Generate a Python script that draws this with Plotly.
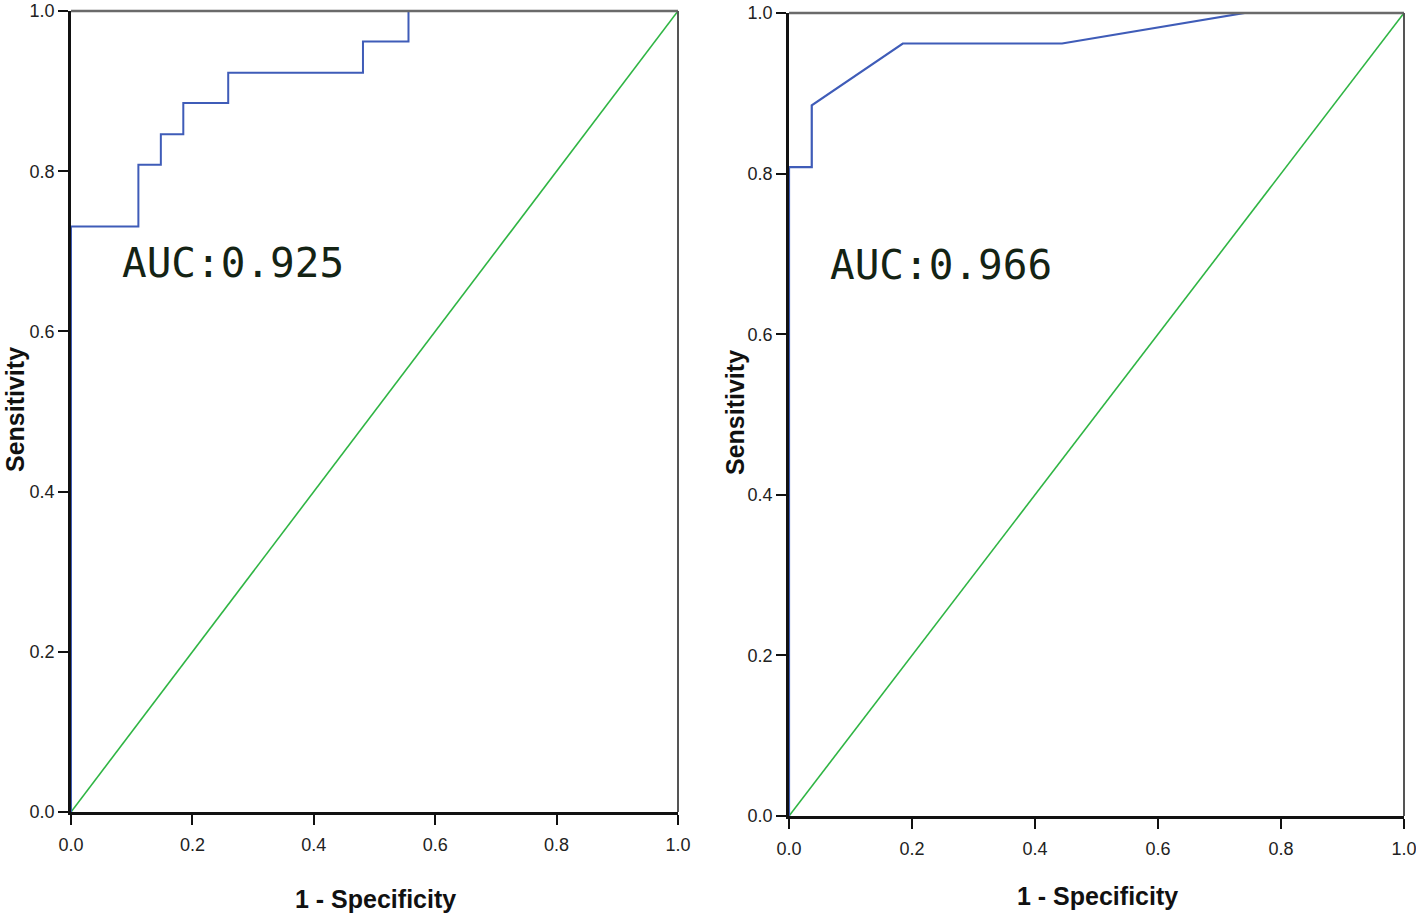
import plotly.graph_objects as go

# ---- data ----
left_fpr = [0.0, 0.0, 0.111, 0.148, 0.185, 0.259, 0.481, 0.556, 1.0]
left_tpr = [0.0, 0.731, 0.808, 0.846, 0.885, 0.923, 0.962, 1.0, 1.0]
left_auc = "AUC:0.925"

right_fpr = [0.0, 0.0, 0.037, 0.037, 0.185, 0.444, 0.741, 1.0]
right_tpr = [0.0, 0.808, 0.808, 0.885, 0.962, 0.962, 1.0, 1.0]
right_auc = "AUC:0.966"

ref_line = [0.0, 1.0]
tick_vals = [0.0, 0.2, 0.4, 0.6, 0.8, 1.0]
tick_text = ["0.0", "0.2", "0.4", "0.6", "0.8", "1.0"]
x_title = "1 - Specificity"
y_title = "Sensitivity"

# ---- layout geometry (pixels) ----
W, H = 1416, 918
L = dict(x0=71, x1=678, yt=11, yb=812)
R = dict(x0=789, x1=1404, yt=13, yb=816)

def xd(p):
    return [p["x0"] / W, p["x1"] / W]

def yd(p):
    return [1 - p["yb"] / H, 1 - p["yt"] / H]

BLUE = "#3f5cb8"
GREEN = "#2fb544"
TICKFONT = dict(family="Liberation Sans Narrow, Arial Narrow, Liberation Sans, Arial", size=18, color="#222")

fig = go.Figure()
fig.add_trace(go.Scatter(x=ref_line, y=ref_line, mode="lines", line=dict(color=GREEN, width=1.6),
                         xaxis="x", yaxis="y", showlegend=False, hoverinfo="skip"))
fig.add_trace(go.Scatter(x=left_fpr, y=left_tpr, mode="lines", line=dict(color=BLUE, width=2, shape="hv"),
                         xaxis="x", yaxis="y", showlegend=False))
fig.add_trace(go.Scatter(x=ref_line, y=ref_line, mode="lines", line=dict(color=GREEN, width=1.6),
                         xaxis="x2", yaxis="y2", showlegend=False, hoverinfo="skip"))
fig.add_trace(go.Scatter(x=right_fpr, y=right_tpr, mode="lines", line=dict(color=BLUE, width=2.2),
                         xaxis="x2", yaxis="y2", showlegend=False))

axis_common = dict(range=[0, 1], tickvals=tick_vals, ticktext=tick_text, ticks="outside",
                   ticklen=10, tickwidth=2, tickcolor="#111", showgrid=False, zeroline=False,
                   showline=True, linecolor="#111", linewidth=2.5, tickfont=TICKFONT,
                   automargin=False, fixedrange=True, ticklabeloverflow="allow")
xaxis_extra = dict(ticklabelstandoff=5)

fig.update_layout(
    width=W, height=H,
    margin=dict(l=0, r=0, t=0, b=0),
    paper_bgcolor="white", plot_bgcolor="white",
    xaxis=dict(domain=xd(L), anchor="y", **axis_common, **xaxis_extra),
    yaxis=dict(domain=yd(L), anchor="x", **axis_common),
    xaxis2=dict(domain=xd(R), anchor="y2", **axis_common, **xaxis_extra),
    yaxis2=dict(domain=yd(R), anchor="x2", **axis_common),
)

# top/right frame lines (gray)
for xr, yr in (("x", "y"), ("x2", "y2")):
    fig.add_shape(type="line", xref=f"{xr} domain", yref=f"{yr} domain", x0=0, x1=1, y0=1, y1=1,
                  line=dict(color="#6a6a6a", width=2.5))
    fig.add_shape(type="line", xref=f"{xr} domain", yref=f"{yr} domain", x0=1, x1=1, y0=0, y1=1,
                  line=dict(color="#555555", width=2))

def ann(text, px, py, size, family, bold=False, angle=0, color="#111"):
    fig.add_annotation(text=f"<b>{text}</b>" if bold else text, xref="paper", yref="paper",
                       x=px / W, y=1 - py / H, xanchor="center", yanchor="middle",
                       showarrow=False, textangle=angle,
                       font=dict(family=family, size=size, color=color))

# AUC labels
ann(left_auc, 233, 263, 41, "DejaVu Sans Mono", color="#142314")
ann(right_auc, 941, 265, 41, "DejaVu Sans Mono", color="#142314")

# axis titles
ann(x_title, 375, 899, 25, "Liberation Sans, Arial", bold=True)
ann(x_title, 1097, 896, 25, "Liberation Sans, Arial", bold=True)
ann(y_title, 15, 410, 25, "Liberation Sans, Arial", bold=True, angle=-90)
ann(y_title, 735, 412, 25, "Liberation Sans, Arial", bold=True, angle=-90)

fig.write_html("out.html", config={"displayModeBar": False},
               post_script="document.body.style.margin='0';document.body.style.overflow='hidden';")
